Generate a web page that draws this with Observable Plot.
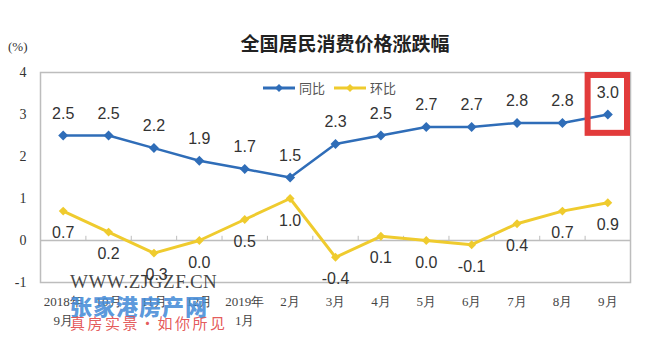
<!DOCTYPE html>
<html><head><meta charset="utf-8">
<script src="https://cdn.jsdelivr.net/npm/d3@7"></script>
<script src="https://cdn.jsdelivr.net/npm/@observablehq/plot@0.6"></script>
<style>
body{margin:0;background:#fff;}
#wrap{position:relative;width:667px;height:347px;overflow:hidden;font-family:"Noto Sans CJK SC","Noto Sans",sans-serif;}
#wrap svg{position:absolute;left:0;top:0;}
.abs{position:absolute;white-space:nowrap;}
#title{left:0;width:690px;top:29px;text-align:center;font-size:19px;font-weight:bold;color:#222;}
#unit{left:8px;top:39px;font-family:"Liberation Serif",serif;font-size:13px;color:#333;}
#legend{left:262px;top:78px;font-size:13px;color:#555;display:flex;align-items:center;}
#legend span.item{display:flex;align-items:center;margin-right:8px;}
#legend svg{position:static;margin-right:3px;}
.wm1{left:70px;top:271px;font-family:"Liberation Serif",serif;font-size:19px;color:rgba(40,40,40,0.85);letter-spacing:0.5px;}
.wm2{left:70px;top:289px;font-size:22px;font-weight:900;color:rgba(70,140,215,0.9);letter-spacing:1px;}
.wm3{left:70px;top:312px;font-size:15px;color:rgba(225,70,70,0.9);letter-spacing:2.5px;}
</style></head><body>
<div id="wrap"></div>
<script>
const title = "全国居民消费价格涨跌幅";
const unitLabel = "(%)";
const months = ["2018年\n9月","10月","11月","12月","2019年\n1月","2月","3月","4月","5月","6月","7月","8月","9月"];
const seriesNames = ["同比","环比"];
const yoy = [2.5,2.5,2.2,1.9,1.7,1.5,2.3,2.5,2.7,2.7,2.8,2.8,3.0];
const mom = [0.7,0.2,-0.3,0.0,0.5,1.0,-0.4,0.1,0.0,-0.1,0.4,0.7,0.9];
const yTicks = [-1,0,1,2,3,4];
const watermark = ["WWW.ZJGZF.CN","张家港房产网","真房实景·如你所见"];

const blue = "#2f6db8", yellow = "#efcb2e", red = "#e23b3b", grid = "#bdbdbd";
const idx = months.map((_, i) => i);
const yoyData = idx.map(i => ({i, v: yoy[i]}));
const momData = idx.map(i => ({i, v: mom[i]}));
const boundaries = idx.slice(1).map(i => i - 0.5);
const last = yoyData[yoyData.length - 1];
const fmt = v => v.toFixed(1);

const chart = Plot.plot({
  width: 667, height: 347,
  marginLeft: 40, marginRight: 37, marginTop: 72, marginBottom: 65,
  style: {background: "transparent"},
  x: {type: "linear", domain: [-0.5, months.length - 0.5]},
  y: {domain: [yTicks[0], yTicks[yTicks.length - 1]]},
  marks: [
    Plot.ruleY([0], {stroke: grid, strokeWidth: 1.5}),
    Plot.ruleX(boundaries, {y1: 0, y2: 0.1, stroke: grid, strokeWidth: 1}),
    Plot.frame({stroke: grid, strokeWidth: 1.5}),
    Plot.line(momData, {x: "i", y: "v", stroke: yellow, strokeWidth: 3}),
    Plot.dot(momData, {x: "i", y: "v", symbol: "diamond2", r: 4, fill: yellow}),
    Plot.line(yoyData, {x: "i", y: "v", stroke: blue, strokeWidth: 2.5}),
    Plot.dot(yoyData, {x: "i", y: "v", symbol: "diamond2", r: 4.5, fill: blue}),
    Plot.text(yoyData, {x: "i", y: "v", text: d => fmt(d.v), dy: -22, fontSize: 16, fill: "#333", fontFamily: "Liberation Sans, Arial, sans-serif"}),
    Plot.text(momData, {x: "i", y: "v", text: d => fmt(d.v), dy: 22, fontSize: 16, fill: "#333", fontFamily: "Liberation Sans, Arial, sans-serif"}),
    Plot.rect([last], {x1: d => d.i - 0.5, x2: d => d.i + 0.5, y1: d => d.v - 0.52, y2: yTicks[yTicks.length - 1], stroke: red, strokeWidth: 6, fill: "none", inset: 3}),
    Plot.axisY({ticks: yTicks, tickFormat: d => String(d), tickSize: 0, tickPadding: 14, fontSize: 14, fontFamily: "Liberation Serif, serif", fill: "#333", label: null}),
    Plot.axisX({ticks: idx, tickFormat: i => months[i], tickSize: 0, tickPadding: 10, lineHeight: 1.45, fontSize: 13, fontFamily: "Liberation Serif, serif", fill: "#444", label: null})
  ]
});

const wrap = document.getElementById("wrap");
wrap.appendChild(chart);

function addDiv(cls, id, text) {
  const d = document.createElement("div");
  d.className = "abs " + (cls || "");
  if (id) d.id = id;
  if (text != null) d.textContent = text;
  wrap.appendChild(d);
  return d;
}
addDiv("", "title", title);
addDiv("", "unit", unitLabel);
const leg = addDiv("", "legend", null);
[[seriesNames[0], blue], [seriesNames[1], yellow]].forEach(([name, col]) => {
  const it = document.createElement("span");
  it.className = "item";
  it.innerHTML = `<svg width="34" height="10"><line x1="1" y1="5" x2="33" y2="5" stroke="${col}" stroke-width="3"/><path d="M17 1 L21 5 L17 9 L13 5 Z" fill="${col}"/></svg>`;
  const t = document.createElement("span");
  t.textContent = name;
  it.appendChild(t);
  leg.appendChild(it);
});
addDiv("wm1", null, watermark[0]);
addDiv("wm2", null, watermark[1]);
addDiv("wm3", null, watermark[2]);
</script>
</body></html>
